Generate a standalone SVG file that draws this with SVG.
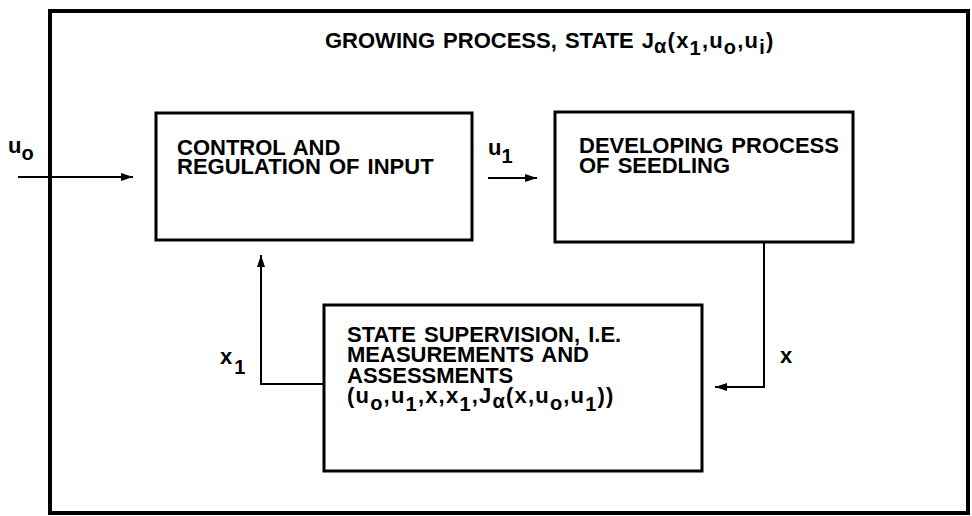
<svg xmlns="http://www.w3.org/2000/svg" width="972" height="516" viewBox="0 0 972 516">
<defs>
<style>
.t{font-family:"Liberation Sans",Arial,Helvetica,sans-serif;font-weight:bold;font-size:22px;fill:#000;word-spacing:2px}
.s{font-size:20px}
.f{letter-spacing:1.2px}
.box{fill:none;stroke:#000;stroke-width:3}
.ln{fill:none;stroke:#000;stroke-width:2}
</style>
<marker id="ah" viewBox="0 0 12 8" refX="12" refY="4" markerWidth="12" markerHeight="8" markerUnits="userSpaceOnUse" orient="auto">
<path d="M0,0 L12,4 L0,8 Z" fill="#000"/>
</marker>
</defs>
<rect width="972" height="516" fill="#fff"/>
<g id="frame">
<rect x="50" y="11" width="918" height="502" fill="none" stroke="#000" stroke-width="4"/>
<text class="t" x="325" y="48">GROWING PROCESS, STATE J<tspan class="s f" dy="5">α</tspan><tspan class="f" dy="-5">(x</tspan><tspan class="s f" dy="7">1</tspan><tspan class="f" dy="-7">,u</tspan><tspan class="s f" dy="6">o</tspan><tspan class="f" dy="-6">,u</tspan><tspan class="s f" dy="6">i</tspan><tspan class="f" dy="-6">)</tspan></text>
</g>
<g id="control">
<rect class="box" x="156" y="113" width="316" height="127"/>
<text class="t" x="177" y="155">CONTROL AND</text>
<text class="t" x="177" y="174">REGULATION OF INPUT</text>
</g>
<g id="developing">
<rect class="box" x="555" y="112" width="298" height="130"/>
<text class="t" x="579" y="153">DEVELOPING PROCESS</text>
<text class="t" x="579" y="173">OF SEEDLING</text>
</g>
<g id="supervision">
<rect class="box" x="324" y="305" width="378" height="166"/>
<text class="t" x="347" y="342">STATE SUPERVISION, I.E.</text>
<text class="t" x="347" y="362">MEASUREMENTS AND</text>
<text class="t" x="347" y="383">ASSESSMENTS</text>
<text class="t f" x="347" y="403">(u<tspan class="s" dy="7">o</tspan><tspan dy="-7">,u</tspan><tspan class="s" dy="8">1</tspan><tspan dy="-8">,x,x</tspan><tspan class="s" dy="8">1</tspan><tspan dy="-8">,J</tspan><tspan class="s" dy="5">α</tspan><tspan dy="-5">(x,u</tspan><tspan class="s" dy="7">o</tspan><tspan dy="-7">,u</tspan><tspan class="s" dy="8">1</tspan><tspan dy="-8">))</tspan></text>
</g>
<g id="connectors">
<line class="ln" x1="18" y1="177" x2="133" y2="177" marker-end="url(#ah)"/>
<line class="ln" x1="488" y1="178" x2="537" y2="178" marker-end="url(#ah)"/>
<polyline class="ln" points="764,242 764,387 715,387" marker-end="url(#ah)"/>
<polyline class="ln" points="324,384 261,384 261,255" marker-end="url(#ah)"/>
<text class="t" x="8" y="153">u<tspan class="s" dy="7">o</tspan></text>
<text class="t" x="488" y="155">u<tspan class="s" dy="8">1</tspan></text>
<text class="t" x="220" y="364">x<tspan class="s" dx="2" dy="10">1</tspan></text>
<text class="t" x="780" y="363">x</text>
</g>
</svg>
